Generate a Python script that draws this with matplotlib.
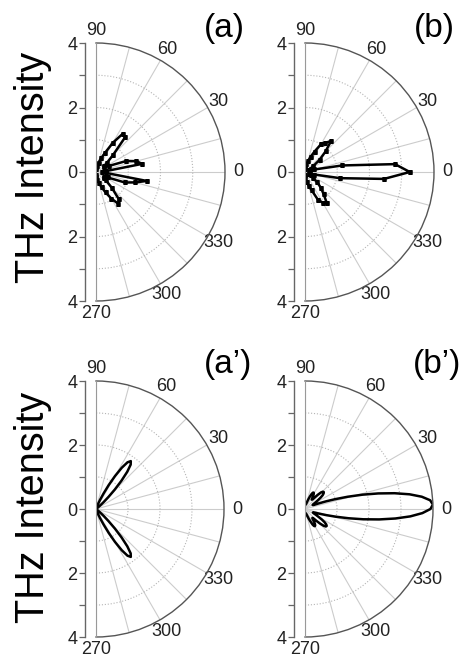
import numpy as np
import matplotlib.pyplot as plt

plt.rcParams['font.family'] = ['Liberation Sans', 'DejaVu Sans']

# measured data, angles in degrees (5 degree steps)
theta_exp = np.arange(-90, 91, 5)
r_a = [0.10, 0.15, 0.25, 0.35, 0.50, 0.70, 0.95, 1.20, 1.10, 0.70,
       0.40, 0.30, 0.30, 0.40, 0.95, 1.25, 1.60, 0.30, 0.20, 0.30,
       1.45, 1.30, 1.00, 0.45, 0.30, 0.30, 0.45, 0.75, 1.40, 1.45,
       1.05, 0.65, 0.45, 0.30, 0.20, 0.15, 0.10]
r_b = [0.10, 0.15, 0.30, 0.45, 0.60, 0.95, 1.10, 1.18, 0.90, 0.70,
       0.50, 0.30, 0.20, 0.15, 0.15, 0.30, 1.10, 2.46, 3.25, 2.80,
       1.17, 0.30, 0.15, 0.15, 0.20, 0.30, 0.60, 0.90, 1.26, 1.10,
       1.00, 0.70, 0.50, 0.35, 0.25, 0.15, 0.10]

# simulated curves, angles in degrees (2 degree steps)
theta_sim = np.arange(-90, 91, 2)
r_a_sim = [0, 0, 0, 0, 0, 0, 0, 0, 0.01, 0.03,
           0.08, 0.17, 0.32, 0.54, 0.85, 1.19, 1.52, 1.76, 1.85, 1.76,
           1.52, 1.19, 0.85, 0.54, 0.32, 0.17, 0.08, 0.03, 0.01, 0,
           0, 0, 0, 0, 0, 0, 0, 0, 0, 0,
           0, 0, 0, 0, 0, 0, 0, 0, 0, 0,
           0, 0, 0, 0, 0, 0, 0, 0, 0, 0,
           0, 0, 0.01, 0.03, 0.08, 0.17, 0.32, 0.54, 0.85, 1.19,
           1.52, 1.76, 1.85, 1.76, 1.52, 1.19, 0.85, 0.54, 0.32, 0.17,
           0.08, 0.03, 0.01, 0, 0, 0, 0, 0, 0, 0, 0]
r_b_sim = [0.12, 0.12, 0.13, 0.14, 0.15, 0.15, 0.15, 0.16, 0.18, 0.22,
           0.28, 0.36, 0.44, 0.54, 0.60, 0.62, 0.60, 0.55, 0.46, 0.38,
           0.36, 0.40, 0.52, 0.66, 0.78, 0.85, 0.86, 0.82, 0.74, 0.62,
           0.48, 0.38, 0.30, 0.27, 0.28, 0.34, 0.48, 0.70, 1.00, 1.39,
           1.85, 2.34, 2.84, 3.30, 3.67, 3.92, 4.00, 3.92, 3.67, 3.30,
           2.84, 2.34, 1.85, 1.39, 1.00, 0.70, 0.48, 0.34, 0.28, 0.27,
           0.30, 0.38, 0.48, 0.60, 0.70, 0.76, 0.79, 0.78, 0.72, 0.60,
           0.47, 0.38, 0.36, 0.40, 0.48, 0.55, 0.58, 0.57, 0.52, 0.44,
           0.36, 0.28, 0.22, 0.18, 0.16, 0.15, 0.15, 0.15, 0.14, 0.13,
           0.12]

grid_angles = [-90, -75, -60, -45, -30, -15, 0, 15, 30, 45, 60, 75, 90]
grid_labels = ['270', '', '300', '', '330', '', '0', '', '30', '', '60', '', '90']
intensity_ticks = [-4, -2, 0, 2, 4]
intensity_labels = ['4', '2', '0', '2', '4']

W, H = 467, 668
fig = plt.figure(figsize=(W / 100, H / 100), dpi=100)


def polar_panel(x0, y0, R):
    # the half disc sits in the middle of a square wedge box of side 2R
    ax = fig.add_axes([(x0 - R / 2) / W, (H - y0 - R) / H, 2 * R / W, 2 * R / H],
                      projection='polar')
    ax.set_thetamin(-90)
    ax.set_thetamax(90)
    ax.set_rlim(0, 4)
    ax.set_rticks([1, 2, 3])
    ax.set_yticklabels([])
    ax.set_thetagrids(grid_angles, grid_labels)
    ax.tick_params(axis='x', labelsize=13, pad=-1.2, colors='#222222')
    ax.xaxis.grid(True, color='#cccccc', lw=0.8, ls='-')
    ax.yaxis.grid(True, color='#b5b5b5', lw=0.8, ls=':')
    ax.spines['polar'].set_color('#555555')
    ax.spines['polar'].set_linewidth(1.0)
    for s in ['start', 'end']:
        ax.spines[s].set_color('#999999')
        ax.spines[s].set_linewidth(0.8)
    ax.spines['inner'].set_visible(False)
    ax.patch.set_visible(False)

    # THz intensity scale on the left
    side = fig.add_axes([(x0 - 11) / W, (H - y0 - R) / H, 0.001, 2 * R / H])
    side.set_ylim(-4, 4)
    side.set_yticks(intensity_ticks)
    side.set_yticklabels(intensity_labels)
    side.set_yticks([-3, -1, 1, 3], minor=True)
    side.set_xticks([])
    for s in ['top', 'right', 'bottom']:
        side.spines[s].set_visible(False)
    side.spines['left'].set_color('#666666')
    side.spines['left'].set_linewidth(1.0)
    side.tick_params(axis='y', which='both', length=4, width=0.9,
                     color='#666666', labelsize=13, pad=1.5, labelcolor='#222222')
    side.patch.set_visible(False)
    return ax


ax_a = polar_panel(96, 172, 129)
ax_b = polar_panel(305, 172, 129)
ax_a2 = polar_panel(96, 509, 128)
ax_b2 = polar_panel(305, 509, 128)

ax_a.plot(np.radians(theta_exp), r_a, color='black', lw=1.8,
          marker='s', ms=2.4, mew=0.4)
ax_b.plot(np.radians(theta_exp), r_b, color='black', lw=1.8,
          marker='s', ms=2.4, mew=0.4)
ax_a2.plot(np.radians(theta_sim), r_a_sim, color='black', lw=1.8)
ax_b2.plot(np.radians(theta_sim), r_b_sim, color='black', lw=1.8)

fig.text(33 / W, 1 - 167.5 / H, 'THz Intensity', rotation=90,
         ha='center', va='center', fontsize=28.5)
fig.text(33 / W, 1 - 507 / H, 'THz Intensity', rotation=90,
         ha='center', va='center', fontsize=28.5)

fig.text(224 / W, 1 - 28 / H, '(a)', ha='center', va='center', fontsize=24)
fig.text(434 / W, 1 - 28 / H, '(b)', ha='center', va='center', fontsize=24)
fig.text(228 / W, 1 - 365 / H, '(a\u2019)', ha='center', va='center', fontsize=24)
fig.text(437 / W, 1 - 365 / H, '(b\u2019)', ha='center', va='center', fontsize=24)

fig.savefig('out.png', dpi=100)
